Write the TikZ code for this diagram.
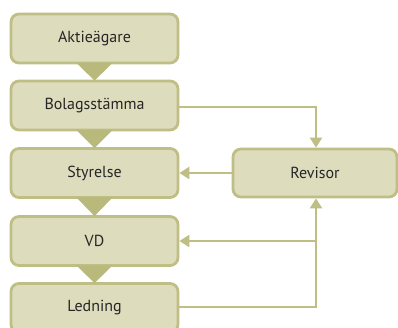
\documentclass[tikz,border=0pt]{standalone}
\usepackage{fontspec}
\setmainfont{PT Sans}
\usetikzlibrary{arrows.meta,calc}
\definecolor{boxfill}{HTML}{DDDCBD}
\definecolor{boxline}{HTML}{BFBF85}
\definecolor{tri}{HTML}{B9B97C}
\definecolor{txt}{HTML}{262626}
\begin{document}
\begin{tikzpicture}[x=1pt,y=-1pt,
  box/.style={draw=boxline,fill=boxfill,line width=2.8pt,rounded corners=8pt,
    minimum width=167pt,minimum height=49pt,inner sep=0pt,
    font=\fontsize{16}{18}\selectfont,text=txt},
  conn/.style={draw=boxline,line width=2.6pt},
  arr/.style={conn,-{Triangle[width=12pt,length=10pt]}},
  trifill/.style={fill=tri,draw=none}]
\useasboundingbox (0,0) rectangle (398,328);
\clip (0,0) rectangle (398,328);
\node[box] (akt) at (94.5,38.5) {Aktieägare};
\node[box] (bol) at (94.5,105.5) {Bolagsstämma};
\node[box] (sty) at (94.5,173) {Styrelse};
\node[box] (vd)  at (94.5,241) {VD};
\node[box] (led) at (94.5,308) {Ledning};
\node[box,minimum width=164pt,minimum height=48pt] (rev) at (315,173) {Revisor};
% triangles
\foreach \a/\b in {akt/bol,bol/sty,sty/vd,vd/led}{
  \path[trifill] ($(\a.south)+(-18,-1.4)$) -- ($(\a.south)+(18,-1.4)$) -- ($(\b.north)+(0,1)$) -- cycle;
}
\coordinate (c1) at (316,107);
\coordinate (c2) at (316,241);
\coordinate (c3) at (316,307);
\draw[arr] (bol.east |- c1) -- (c1) -- (rev.north -| c1);
\draw[arr] (rev.west) -- (sty.east);
\draw[arr] (led.east |- c3) -- (c3) -- (rev.south -| c3);
\draw[arr] (c2) -- (vd.east |- c2);
\end{tikzpicture}
\end{document}
